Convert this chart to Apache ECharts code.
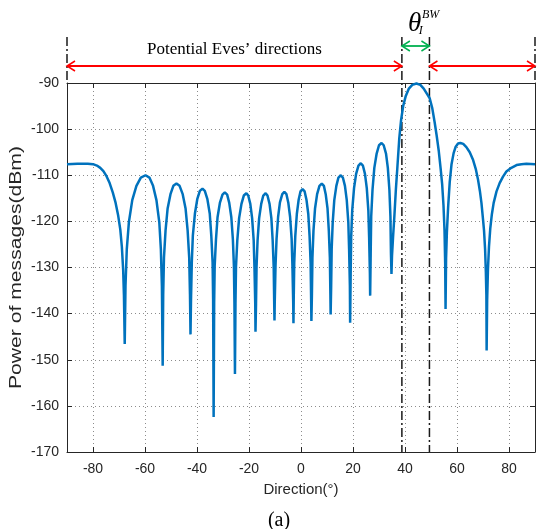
<!DOCTYPE html>
<html>
<head>
<meta charset="utf-8">
<script src="https://cdn.jsdelivr.net/npm/echarts@6/dist/echarts.min.js"></script>
<style>
  html, body { margin: 0; padding: 0; background: #fff; }
  #chart { width: 537px; height: 529px; }
</style>
</head>
<body>
<div id="chart"></div>
<script>
// Received message power versus direction (degrees, dBm), one row per lobe
const pattern = [
  [-90, -107.6], [-86, -107.5], [-82, -107.5], [-80, -107.6], [-78.5, -107.9], [-77.2, -108.4], [-76.0, -109.1], [-74.8, -110.2], [-73.6, -111.7], [-72.4, -113.7], [-71.3, -116.0], [-70.3, -118.8], [-69.5, -121.8], [-68.9, -125.5], [-68.4, -130.5], [-68.1, -136.0], [-67.8, -146.6],
  [-67.5, -134.0], [-67.0, -126.0], [-66.2, -120.2], [-64.9, -115.4], [-63.3, -112.3], [-61.6, -110.5], [-59.8, -110.0], [-58.3, -110.5], [-56.9, -112.3], [-55.6, -115.4], [-54.5, -120.2], [-53.9, -126.0], [-53.5, -134.0], [-53.2, -151.3],
  [-53.0, -135.8], [-52.7, -127.8], [-52.1, -122.0], [-51.3, -117.2], [-50.2, -114.1], [-49.1, -112.3], [-47.9, -111.8], [-46.7, -112.3], [-45.5, -114.1], [-44.4, -117.2], [-43.6, -122.0], [-43.0, -127.8], [-42.7, -135.8], [-42.5, -144.5],
  [-42.3, -136.9], [-42.0, -128.9], [-41.6, -123.1], [-40.8, -118.3], [-39.9, -115.2], [-38.9, -113.4], [-37.9, -112.9], [-37.0, -113.4], [-36.0, -115.2], [-35.1, -118.3], [-34.5, -123.1], [-34.0, -128.9], [-33.8, -136.9], [-33.6, -162.4],
  [-33.4, -137.7], [-33.2, -129.7], [-32.7, -123.9], [-32.1, -119.1], [-31.2, -116.0], [-30.2, -114.2], [-29.3, -113.7], [-28.4, -114.2], [-27.6, -116.0], [-26.8, -119.1], [-26.2, -123.9], [-25.8, -129.7], [-25.6, -137.7], [-25.4, -153.1],
  [-25.2, -137.9], [-25.0, -129.9], [-24.5, -124.1], [-23.8, -119.3], [-22.9, -116.2], [-22.0, -114.4], [-21.0, -113.9], [-20.3, -114.4], [-19.5, -116.2], [-18.8, -119.3], [-18.2, -124.1], [-17.9, -129.9], [-17.6, -137.9], [-17.5, -143.9],
  [-17.3, -137.9], [-17.1, -129.9], [-16.7, -124.1], [-16.1, -119.3], [-15.3, -116.2], [-14.5, -114.4], [-13.6, -113.9], [-12.9, -114.4], [-12.1, -116.2], [-11.4, -119.3], [-10.9, -124.1], [-10.5, -129.9], [-10.3, -137.9], [-10.2, -141.5],
  [-10.1, -137.6], [-9.8, -129.6], [-9.4, -123.8], [-8.8, -119.0], [-8.1, -115.9], [-7.2, -114.1], [-6.4, -113.6], [-5.6, -114.1], [-4.9, -115.9], [-4.2, -119.0], [-3.6, -123.8], [-3.3, -129.6], [-3.0, -137.6], [-2.9, -142.1],
  [-2.8, -137.0], [-2.6, -129.0], [-2.2, -123.2], [-1.6, -118.4], [-0.9, -115.3], [-0.2, -113.5], [0.6, -113.0], [1.4, -113.5], [2.1, -115.3], [2.8, -118.4], [3.3, -123.2], [3.7, -129.0], [3.9, -137.0], [4.0, -141.6],
  [4.2, -135.8], [4.4, -127.8], [4.8, -122.0], [5.4, -117.2], [6.2, -114.1], [7.1, -112.3], [8.0, -111.8], [8.8, -112.3], [9.5, -114.1], [10.2, -117.2], [10.7, -122.0], [11.1, -127.8], [11.3, -135.8], [11.4, -140.2],
  [11.6, -134.0], [11.8, -126.0], [12.2, -120.2], [12.8, -115.4], [13.6, -112.3], [14.4, -110.5], [15.3, -110.0], [16.1, -110.5], [16.9, -112.3], [17.6, -115.4], [18.2, -120.2], [18.5, -126.0], [18.8, -134.0], [18.9, -142.0],
  [19.1, -131.4], [19.3, -123.4], [19.7, -117.6], [20.4, -112.8], [21.2, -109.7], [22.1, -107.9], [23.0, -107.4], [23.8, -107.9], [24.6, -109.7], [25.3, -112.8], [25.9, -117.6], [26.2, -123.4], [26.5, -131.4], [26.6, -136.1],
  [26.8, -127.0], [27.0, -119.0], [27.5, -113.2], [28.2, -108.4], [29.1, -105.3], [30.0, -103.5], [31.0, -103.0], [31.8, -103.5], [32.7, -105.3], [33.4, -108.4], [34.0, -113.2], [34.4, -119.0], [34.6, -127.0], [34.8, -131.4],
  [35.0, -127.5], [35.4, -123.5], [35.9, -119.0], [36.5, -113.0], [37.1, -108.0], [37.8, -102.0], [38.5, -98.0], [39.3, -95.0], [40.3, -92.8], [41.5, -91.2], [42.8, -90.4], [44.4, -90.1], [45.9, -90.4], [47.2, -91.2], [48.4, -92.3], [49.5, -93.3], [50.5, -95.5], [51.4, -98.5], [52.2, -101.5], [53.0, -104.8], [53.7, -108.5], [54.3, -112.0], [54.8, -116.5], [55.2, -122.0], [55.45, -129.0], [55.6, -139.0],
  [55.8, -128.0], [56.1, -122.5], [56.6, -116.8], [57.2, -111.5], [57.9, -107.6], [58.7, -105.2], [59.5, -103.8], [60.4, -103.1], [61.3, -103.0], [62.4, -103.2], [63.6, -103.9], [64.9, -105.0], [66.2, -106.7], [67.2, -108.6], [68.1, -111.0], [68.8, -113.4], [69.4, -116.0], [70.0, -119.5], [70.4, -122.0], [70.8, -126.0], [71.1, -131.0], [71.3, -136.0], [71.4, -148.0],
  [71.6, -137.0], [71.9, -130.5], [72.3, -125.5], [72.8, -121.5], [73.4, -118.5], [74.1, -116.0], [75.2, -113.5], [76.4, -111.7], [77.7, -110.3], [79.0, -109.2], [80.9, -108.4], [82.9, -107.8], [84.8, -107.6], [86.7, -107.5], [90, -107.6]
];

const xTicks = [-80, -60, -40, -20, 0, 20, 40, 60, 80];
const xRange = [-90, 90];
const yRange = [-170, -90];
const yStep = 10;
const beamEdges = [38.8, 49.4];        // main-beam width boundaries (deg)
const regionLabel = 'Potential Eves\u2019 directions';
const xTitle = 'Direction(\u00b0)';
const yTitle = 'Power of messages(dBm)';

const axisColor = '#262626';
const sansFont = 'Liberation Sans';
const serifFont = 'Liberation Serif';

function xAxisDef(position, main) {
  return {
    type: 'value', position: position, min: xRange[0], max: xRange[1],
    name: main ? xTitle : '', nameLocation: 'middle', nameGap: 30,
    nameTextStyle: { fontFamily: sansFont, fontSize: 15, color: axisColor },
    axisLine: { show: true, onZero: false, lineStyle: { color: axisColor, width: 1 } },
    axisTick: { show: true, inside: true, length: 5, customValues: xTicks, lineStyle: { color: axisColor } },
    axisLabel: { show: main, customValues: xTicks, fontFamily: sansFont, fontSize: 14, color: axisColor, margin: 10 },
    splitLine: { show: main, lineStyle: { color: '#8c8c8c', width: 1, type: [1, 3] } }
  };
}
function yAxisDef(position, main) {
  return {
    type: 'value', position: position, min: yRange[0], max: yRange[1], interval: yStep,
    axisLine: { show: true, onZero: false, lineStyle: { color: axisColor, width: 1 } },
    axisTick: { show: true, inside: true, length: 5, lineStyle: { color: axisColor } },
    axisLabel: { show: main, fontFamily: sansFont, fontSize: 14, color: axisColor, margin: 8 },
    splitLine: { show: main, lineStyle: { color: '#8c8c8c', width: 1, type: [1, 3] } }
  };
}

const chart = echarts.init(document.getElementById('chart'), null, { renderer: 'canvas' });
chart.setOption({
  animation: false,
  backgroundColor: '#ffffff',
  grid: { left: 67, right: 2, top: 83, bottom: 77 },
  xAxis: [xAxisDef('bottom', true), xAxisDef('top', false)],
  yAxis: [yAxisDef('left', true), yAxisDef('right', false)],
  series: [{
    type: 'line', xAxisIndex: 0, yAxisIndex: 0,
    data: pattern, showSymbol: false, smooth: false, clip: false,
    lineStyle: { color: '#0072BD', width: 2.5 }
  }]
});

// Annotations above the axes: region arrows, beam-width marker and dash-dot guides
const px = v => chart.convertToPixel({ xAxisIndex: 0 }, v);
const py = v => chart.convertToPixel({ yAxisIndex: 0 }, v);
const plotTop = py(yRange[1]);
const plotBottom = py(yRange[0]);
const xL = px(xRange[0]), xR = px(xRange[1]);
const xB1 = px(beamEdges[0]), xB2 = px(beamEdges[1]);
const guideTop = plotTop - 46;
const redY = plotTop - 17;
const greenY = plotTop - 37;
const dashDot = [9, 3, 2, 3];

function vline(x, y1, y2) {
  return { type: 'line', shape: { x1: x, y1: y1, x2: x, y2: y2 },
           style: { stroke: '#1a1a1a', lineWidth: 1.5, lineDash: dashDot } };
}
function arrow(x1, x2, y, color) {
  const h = 8, w = 5;
  return [
    { type: 'line', shape: { x1: x1, y1: y, x2: x2, y2: y }, style: { stroke: color, lineWidth: 1.8 } },
    { type: 'polyline', shape: { points: [[x1 + h, y - w], [x1, y], [x1 + h, y + w]] }, style: { stroke: color, lineWidth: 1.5, fill: null } },
    { type: 'polyline', shape: { points: [[x2 - h, y - w], [x2, y], [x2 - h, y + w]] }, style: { stroke: color, lineWidth: 1.5, fill: null } }
  ];
}

const beamMid = (xB1 + xB2) / 2;
const graphics = [
  vline(xL, guideTop, plotTop), vline(xR, guideTop, plotTop),
  vline(xB1, guideTop, plotBottom), vline(xB2, guideTop, plotBottom),
  ...arrow(xL, xB1, redY, '#ff0000'),
  ...arrow(xB2, xR, redY, '#ff0000'),
  ...arrow(xB1, xB2, greenY, '#00b050'),
  { type: 'text', x: (xL + xB1) / 2, y: plotTop - 33,
    style: { text: regionLabel, font: '17px "' + serifFont + '"', fill: '#000', align: 'center', verticalAlign: 'middle' } },
  { type: 'text', x: beamMid - 1, y: plotTop - 59,
    style: { text: '\u03b8', font: 'italic 27px "' + serifFont + '"', fill: '#000', align: 'center', verticalAlign: 'middle' } },
  { type: 'text', x: beamMid + 5, y: plotTop - 52,
    style: { text: 'I', font: 'italic 12px "' + serifFont + '"', fill: '#000', align: 'center', verticalAlign: 'middle' } },
  { type: 'text', x: beamMid + 15, y: plotTop - 68,
    style: { text: 'BW', font: 'italic 12px "' + serifFont + '"', fill: '#000', align: 'center', verticalAlign: 'middle' } },
  // vertical axis title, centred on the plot height
  { type: 'text', x: 17, y: (plotTop + plotBottom) / 2, rotation: Math.PI / 2, scaleX: 1.32,
    style: { text: yTitle, font: '16px "' + sansFont + '"', fill: axisColor, align: 'center', verticalAlign: 'middle' } },
  { type: 'text', x: (xL + xR) / 2 - 22, y: 521,
    style: { text: '(a)', font: '20px "' + serifFont + '"', fill: '#000', align: 'center', verticalAlign: 'middle' } }
];
chart.setOption({ graphic: graphics });
</script>
</body>
</html>
